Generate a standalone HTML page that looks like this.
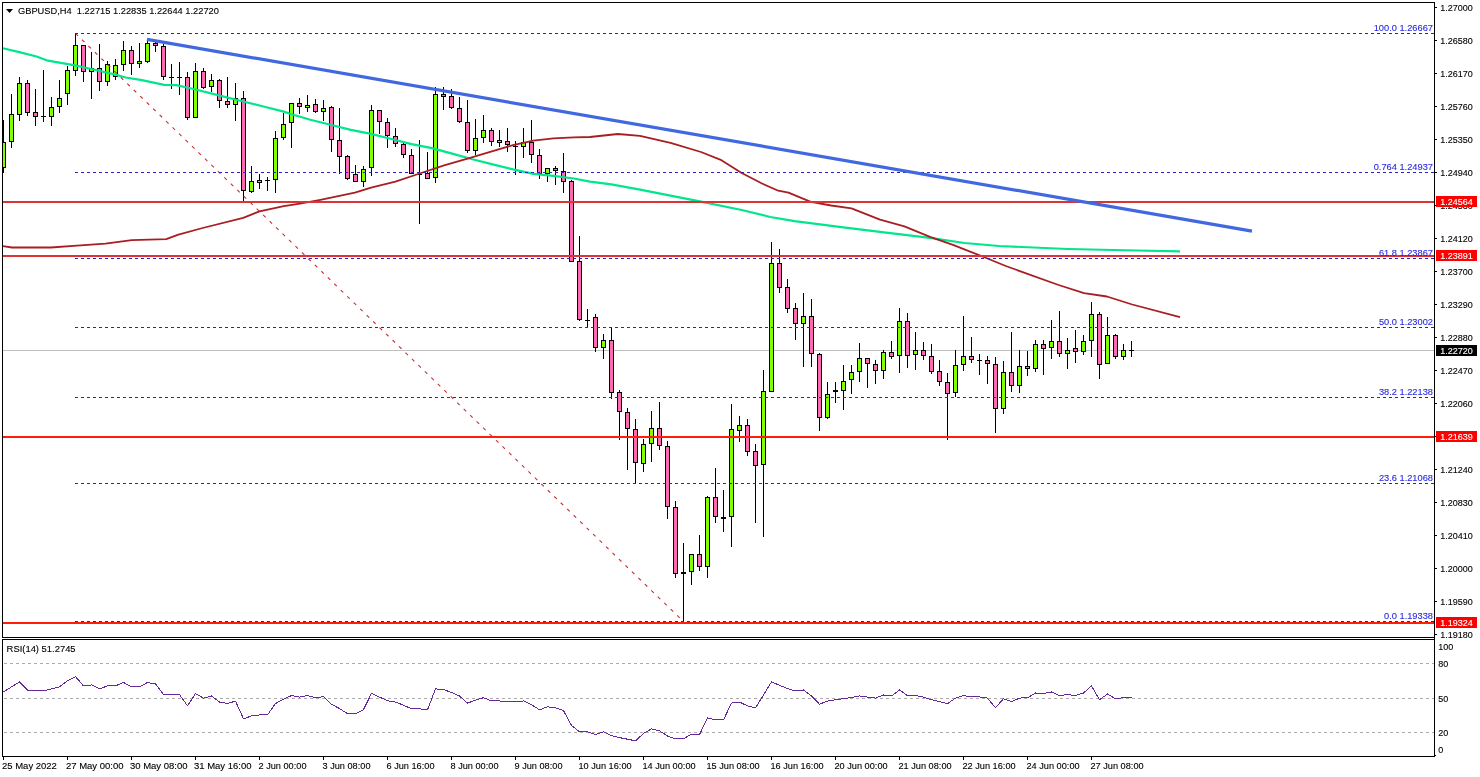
<!DOCTYPE html>
<html><head><meta charset="utf-8"><title>GBPUSD H4</title>
<style>html,body{margin:0;padding:0;background:#fff;width:1480px;height:777px;overflow:hidden}</style></head>
<body>
<svg width="1480" height="777" viewBox="0 0 1480 777" style="position:absolute;left:0;top:0;display:block" font-family="'Liberation Sans', sans-serif" font-size="9.9px">
<rect x="0" y="0" width="1480" height="777" fill="#ffffff"/>
<g shape-rendering="crispEdges">
<rect x="3" y="350" width="1431" height="1" fill="#C0C0C0"/>
</g>
<line x1="4" y1="663.5" x2="1434" y2="663.5" stroke="#ABABAB" stroke-width="1" stroke-dasharray="3 3" shape-rendering="crispEdges"/>
<line x1="4" y1="698.5" x2="1434" y2="698.5" stroke="#ABABAB" stroke-width="1" stroke-dasharray="3 3" shape-rendering="crispEdges"/>
<line x1="4" y1="732.5" x2="1434" y2="732.5" stroke="#ABABAB" stroke-width="1" stroke-dasharray="3 3" shape-rendering="crispEdges"/>
<clipPath id="cc"><rect x="3" y="3" width="1431" height="634"/></clipPath>
<g shape-rendering="crispEdges" clip-path="url(#cc)">
<rect x="3" y="120" width="1" height="53" fill="#000"/>
<rect x="1" y="142" width="5" height="26" fill="#000"/>
<rect x="2" y="143" width="3" height="24" fill="#7FFF00"/>
<rect x="11" y="94" width="1" height="54" fill="#000"/>
<rect x="9" y="114" width="5" height="28" fill="#000"/>
<rect x="10" y="115" width="3" height="26" fill="#7FFF00"/>
<rect x="19" y="77" width="1" height="44" fill="#000"/>
<rect x="17" y="83" width="5" height="32" fill="#000"/>
<rect x="18" y="84" width="3" height="30" fill="#7FFF00"/>
<rect x="27" y="80" width="1" height="36" fill="#000"/>
<rect x="25" y="83" width="5" height="30" fill="#000"/>
<rect x="26" y="84" width="3" height="28" fill="#FF69B4"/>
<rect x="35" y="89" width="1" height="37" fill="#000"/>
<rect x="33" y="112" width="5" height="5" fill="#000"/>
<rect x="34" y="113" width="3" height="3" fill="#FF69B4"/>
<rect x="43" y="70" width="1" height="52" fill="#000"/>
<rect x="41" y="116" width="5" height="1" fill="#000"/>
<rect x="51" y="97" width="1" height="29" fill="#000"/>
<rect x="49" y="107" width="5" height="10" fill="#000"/>
<rect x="50" y="108" width="3" height="8" fill="#7FFF00"/>
<rect x="59" y="80" width="1" height="33" fill="#000"/>
<rect x="57" y="98" width="5" height="9" fill="#000"/>
<rect x="58" y="99" width="3" height="7" fill="#7FFF00"/>
<rect x="67" y="66" width="1" height="39" fill="#000"/>
<rect x="65" y="70" width="5" height="24" fill="#000"/>
<rect x="66" y="71" width="3" height="22" fill="#7FFF00"/>
<rect x="75" y="33" width="1" height="43" fill="#000"/>
<rect x="73" y="45" width="5" height="26" fill="#000"/>
<rect x="74" y="46" width="3" height="24" fill="#7FFF00"/>
<rect x="83" y="45" width="1" height="37" fill="#000"/>
<rect x="81" y="45" width="5" height="27" fill="#000"/>
<rect x="82" y="46" width="3" height="25" fill="#FF69B4"/>
<rect x="91" y="52" width="1" height="47" fill="#000"/>
<rect x="89" y="68" width="5" height="4" fill="#000"/>
<rect x="90" y="69" width="3" height="2" fill="#7FFF00"/>
<rect x="99" y="44" width="1" height="47" fill="#000"/>
<rect x="97" y="68" width="5" height="14" fill="#000"/>
<rect x="98" y="69" width="3" height="12" fill="#FF69B4"/>
<rect x="107" y="61" width="1" height="25" fill="#000"/>
<rect x="105" y="64" width="5" height="18" fill="#000"/>
<rect x="106" y="65" width="3" height="16" fill="#7FFF00"/>
<rect x="115" y="59" width="1" height="21" fill="#000"/>
<rect x="113" y="65" width="5" height="12" fill="#000"/>
<rect x="114" y="66" width="3" height="10" fill="#7FFF00"/>
<rect x="123" y="41" width="1" height="30" fill="#000"/>
<rect x="121" y="50" width="5" height="15" fill="#000"/>
<rect x="122" y="51" width="3" height="13" fill="#7FFF00"/>
<rect x="131" y="46" width="1" height="29" fill="#000"/>
<rect x="129" y="50" width="5" height="14" fill="#000"/>
<rect x="130" y="51" width="3" height="12" fill="#FF69B4"/>
<rect x="139" y="43" width="1" height="25" fill="#000"/>
<rect x="137" y="61" width="5" height="3" fill="#000"/>
<rect x="138" y="62" width="3" height="1" fill="#7FFF00"/>
<rect x="147" y="41" width="1" height="22" fill="#000"/>
<rect x="145" y="43" width="5" height="19" fill="#000"/>
<rect x="146" y="44" width="3" height="17" fill="#7FFF00"/>
<rect x="155" y="42" width="1" height="10" fill="#000"/>
<rect x="153" y="43" width="5" height="3" fill="#000"/>
<rect x="154" y="44" width="3" height="1" fill="#FF69B4"/>
<rect x="163" y="44" width="1" height="36" fill="#000"/>
<rect x="161" y="46" width="5" height="31" fill="#000"/>
<rect x="162" y="47" width="3" height="29" fill="#FF69B4"/>
<rect x="171" y="64" width="1" height="25" fill="#000"/>
<rect x="169" y="77" width="5" height="1" fill="#000"/>
<rect x="179" y="62" width="1" height="33" fill="#000"/>
<rect x="177" y="77" width="5" height="1" fill="#000"/>
<rect x="187" y="72" width="1" height="48" fill="#000"/>
<rect x="185" y="77" width="5" height="41" fill="#000"/>
<rect x="186" y="78" width="3" height="39" fill="#FF69B4"/>
<rect x="195" y="63" width="1" height="55" fill="#000"/>
<rect x="193" y="71" width="5" height="47" fill="#000"/>
<rect x="194" y="72" width="3" height="45" fill="#7FFF00"/>
<rect x="203" y="68" width="1" height="21" fill="#000"/>
<rect x="201" y="71" width="5" height="17" fill="#000"/>
<rect x="202" y="72" width="3" height="15" fill="#FF69B4"/>
<rect x="211" y="74" width="1" height="18" fill="#000"/>
<rect x="209" y="80" width="5" height="7" fill="#000"/>
<rect x="210" y="81" width="3" height="5" fill="#7FFF00"/>
<rect x="219" y="79" width="1" height="29" fill="#000"/>
<rect x="217" y="80" width="5" height="21" fill="#000"/>
<rect x="218" y="81" width="3" height="19" fill="#FF69B4"/>
<rect x="227" y="77" width="1" height="31" fill="#000"/>
<rect x="225" y="101" width="5" height="4" fill="#000"/>
<rect x="226" y="102" width="3" height="2" fill="#FF69B4"/>
<rect x="235" y="83" width="1" height="38" fill="#000"/>
<rect x="233" y="98" width="5" height="7" fill="#000"/>
<rect x="234" y="99" width="3" height="5" fill="#7FFF00"/>
<rect x="243" y="91" width="1" height="111" fill="#000"/>
<rect x="241" y="98" width="5" height="93" fill="#000"/>
<rect x="242" y="99" width="3" height="91" fill="#FF69B4"/>
<rect x="251" y="166" width="1" height="27" fill="#000"/>
<rect x="249" y="181" width="5" height="11" fill="#000"/>
<rect x="250" y="182" width="3" height="9" fill="#7FFF00"/>
<rect x="259" y="174" width="1" height="15" fill="#000"/>
<rect x="257" y="180" width="5" height="3" fill="#000"/>
<rect x="258" y="181" width="3" height="1" fill="#7FFF00"/>
<rect x="267" y="177" width="1" height="14" fill="#000"/>
<rect x="265" y="180" width="5" height="1" fill="#000"/>
<rect x="275" y="131" width="1" height="62" fill="#000"/>
<rect x="273" y="138" width="5" height="42" fill="#000"/>
<rect x="274" y="139" width="3" height="40" fill="#7FFF00"/>
<rect x="283" y="113" width="1" height="27" fill="#000"/>
<rect x="281" y="124" width="5" height="14" fill="#000"/>
<rect x="282" y="125" width="3" height="12" fill="#7FFF00"/>
<rect x="291" y="103" width="1" height="45" fill="#000"/>
<rect x="289" y="103" width="5" height="20" fill="#000"/>
<rect x="290" y="104" width="3" height="18" fill="#7FFF00"/>
<rect x="299" y="98" width="1" height="16" fill="#000"/>
<rect x="297" y="103" width="5" height="4" fill="#000"/>
<rect x="298" y="104" width="3" height="2" fill="#FF69B4"/>
<rect x="307" y="95" width="1" height="17" fill="#000"/>
<rect x="305" y="105" width="5" height="3" fill="#000"/>
<rect x="306" y="106" width="3" height="1" fill="#7FFF00"/>
<rect x="315" y="99" width="1" height="14" fill="#000"/>
<rect x="313" y="104" width="5" height="8" fill="#000"/>
<rect x="314" y="105" width="3" height="6" fill="#FF69B4"/>
<rect x="323" y="100" width="1" height="21" fill="#000"/>
<rect x="321" y="108" width="5" height="4" fill="#000"/>
<rect x="322" y="109" width="3" height="2" fill="#7FFF00"/>
<rect x="331" y="106" width="1" height="46" fill="#000"/>
<rect x="329" y="107" width="5" height="33" fill="#000"/>
<rect x="330" y="108" width="3" height="31" fill="#FF69B4"/>
<rect x="339" y="108" width="1" height="66" fill="#000"/>
<rect x="337" y="140" width="5" height="17" fill="#000"/>
<rect x="338" y="141" width="3" height="15" fill="#FF69B4"/>
<rect x="347" y="155" width="1" height="25" fill="#000"/>
<rect x="345" y="156" width="5" height="23" fill="#000"/>
<rect x="346" y="157" width="3" height="21" fill="#FF69B4"/>
<rect x="355" y="165" width="1" height="17" fill="#000"/>
<rect x="353" y="174" width="5" height="8" fill="#000"/>
<rect x="354" y="175" width="3" height="6" fill="#FF69B4"/>
<rect x="363" y="166" width="1" height="21" fill="#000"/>
<rect x="361" y="169" width="5" height="13" fill="#000"/>
<rect x="362" y="170" width="3" height="11" fill="#7FFF00"/>
<rect x="371" y="105" width="1" height="71" fill="#000"/>
<rect x="369" y="110" width="5" height="58" fill="#000"/>
<rect x="370" y="111" width="3" height="56" fill="#7FFF00"/>
<rect x="379" y="110" width="1" height="24" fill="#000"/>
<rect x="377" y="110" width="5" height="12" fill="#000"/>
<rect x="378" y="111" width="3" height="10" fill="#FF69B4"/>
<rect x="387" y="118" width="1" height="30" fill="#000"/>
<rect x="385" y="122" width="5" height="14" fill="#000"/>
<rect x="386" y="123" width="3" height="12" fill="#FF69B4"/>
<rect x="395" y="128" width="1" height="19" fill="#000"/>
<rect x="393" y="136" width="5" height="8" fill="#000"/>
<rect x="394" y="137" width="3" height="6" fill="#FF69B4"/>
<rect x="403" y="143" width="1" height="15" fill="#000"/>
<rect x="401" y="144" width="5" height="11" fill="#000"/>
<rect x="402" y="145" width="3" height="9" fill="#FF69B4"/>
<rect x="411" y="149" width="1" height="25" fill="#000"/>
<rect x="409" y="155" width="5" height="19" fill="#000"/>
<rect x="410" y="156" width="3" height="17" fill="#FF69B4"/>
<rect x="419" y="140" width="1" height="84" fill="#000"/>
<rect x="417" y="174" width="5" height="1" fill="#000"/>
<rect x="427" y="152" width="1" height="27" fill="#000"/>
<rect x="425" y="173" width="5" height="6" fill="#000"/>
<rect x="426" y="174" width="3" height="4" fill="#FF69B4"/>
<rect x="435" y="87" width="1" height="96" fill="#000"/>
<rect x="433" y="94" width="5" height="84" fill="#000"/>
<rect x="434" y="95" width="3" height="82" fill="#7FFF00"/>
<rect x="443" y="87" width="1" height="23" fill="#000"/>
<rect x="441" y="94" width="5" height="3" fill="#000"/>
<rect x="442" y="95" width="3" height="1" fill="#FF69B4"/>
<rect x="451" y="89" width="1" height="20" fill="#000"/>
<rect x="449" y="96" width="5" height="12" fill="#000"/>
<rect x="450" y="97" width="3" height="10" fill="#FF69B4"/>
<rect x="459" y="97" width="1" height="26" fill="#000"/>
<rect x="457" y="108" width="5" height="14" fill="#000"/>
<rect x="458" y="109" width="3" height="12" fill="#FF69B4"/>
<rect x="467" y="100" width="1" height="53" fill="#000"/>
<rect x="465" y="122" width="5" height="29" fill="#000"/>
<rect x="466" y="123" width="3" height="27" fill="#FF69B4"/>
<rect x="475" y="119" width="1" height="36" fill="#000"/>
<rect x="473" y="138" width="5" height="13" fill="#000"/>
<rect x="474" y="139" width="3" height="11" fill="#7FFF00"/>
<rect x="483" y="115" width="1" height="28" fill="#000"/>
<rect x="481" y="130" width="5" height="8" fill="#000"/>
<rect x="482" y="131" width="3" height="6" fill="#7FFF00"/>
<rect x="491" y="128" width="1" height="18" fill="#000"/>
<rect x="489" y="130" width="5" height="12" fill="#000"/>
<rect x="490" y="131" width="3" height="10" fill="#FF69B4"/>
<rect x="499" y="130" width="1" height="17" fill="#000"/>
<rect x="497" y="140" width="5" height="3" fill="#000"/>
<rect x="498" y="141" width="3" height="1" fill="#7FFF00"/>
<rect x="507" y="128" width="1" height="24" fill="#000"/>
<rect x="505" y="141" width="5" height="4" fill="#000"/>
<rect x="506" y="142" width="3" height="2" fill="#FF69B4"/>
<rect x="515" y="141" width="1" height="34" fill="#000"/>
<rect x="513" y="146" width="5" height="1" fill="#000"/>
<rect x="523" y="128" width="1" height="30" fill="#000"/>
<rect x="521" y="142" width="5" height="5" fill="#000"/>
<rect x="522" y="143" width="3" height="3" fill="#7FFF00"/>
<rect x="531" y="120" width="1" height="43" fill="#000"/>
<rect x="529" y="142" width="5" height="13" fill="#000"/>
<rect x="530" y="143" width="3" height="11" fill="#FF69B4"/>
<rect x="539" y="149" width="1" height="30" fill="#000"/>
<rect x="537" y="155" width="5" height="19" fill="#000"/>
<rect x="538" y="156" width="3" height="17" fill="#FF69B4"/>
<rect x="547" y="168" width="1" height="14" fill="#000"/>
<rect x="545" y="168" width="5" height="6" fill="#000"/>
<rect x="546" y="169" width="3" height="4" fill="#7FFF00"/>
<rect x="555" y="166" width="1" height="19" fill="#000"/>
<rect x="553" y="168" width="5" height="3" fill="#000"/>
<rect x="554" y="169" width="3" height="1" fill="#FF69B4"/>
<rect x="563" y="153" width="1" height="40" fill="#000"/>
<rect x="561" y="171" width="5" height="11" fill="#000"/>
<rect x="562" y="172" width="3" height="9" fill="#FF69B4"/>
<rect x="571" y="180" width="1" height="82" fill="#000"/>
<rect x="569" y="181" width="5" height="81" fill="#000"/>
<rect x="570" y="182" width="3" height="79" fill="#FF69B4"/>
<rect x="579" y="236" width="1" height="85" fill="#000"/>
<rect x="577" y="261" width="5" height="59" fill="#000"/>
<rect x="578" y="262" width="3" height="57" fill="#FF69B4"/>
<rect x="587" y="309" width="1" height="18" fill="#000"/>
<rect x="585" y="320" width="5" height="1" fill="#000"/>
<rect x="595" y="314" width="1" height="38" fill="#000"/>
<rect x="593" y="317" width="5" height="31" fill="#000"/>
<rect x="594" y="318" width="3" height="29" fill="#FF69B4"/>
<rect x="603" y="334" width="1" height="25" fill="#000"/>
<rect x="601" y="340" width="5" height="8" fill="#000"/>
<rect x="602" y="341" width="3" height="6" fill="#7FFF00"/>
<rect x="611" y="328" width="1" height="71" fill="#000"/>
<rect x="609" y="340" width="5" height="53" fill="#000"/>
<rect x="610" y="341" width="3" height="51" fill="#FF69B4"/>
<rect x="619" y="390" width="1" height="50" fill="#000"/>
<rect x="617" y="392" width="5" height="20" fill="#000"/>
<rect x="618" y="393" width="3" height="18" fill="#FF69B4"/>
<rect x="627" y="408" width="1" height="62" fill="#000"/>
<rect x="625" y="412" width="5" height="17" fill="#000"/>
<rect x="626" y="413" width="3" height="15" fill="#FF69B4"/>
<rect x="635" y="419" width="1" height="64" fill="#000"/>
<rect x="633" y="429" width="5" height="34" fill="#000"/>
<rect x="634" y="430" width="3" height="32" fill="#FF69B4"/>
<rect x="643" y="439" width="1" height="33" fill="#000"/>
<rect x="641" y="444" width="5" height="20" fill="#000"/>
<rect x="642" y="445" width="3" height="18" fill="#7FFF00"/>
<rect x="651" y="411" width="1" height="51" fill="#000"/>
<rect x="649" y="428" width="5" height="16" fill="#000"/>
<rect x="650" y="429" width="3" height="14" fill="#7FFF00"/>
<rect x="659" y="402" width="1" height="48" fill="#000"/>
<rect x="657" y="428" width="5" height="18" fill="#000"/>
<rect x="658" y="429" width="3" height="16" fill="#FF69B4"/>
<rect x="667" y="441" width="1" height="78" fill="#000"/>
<rect x="665" y="446" width="5" height="61" fill="#000"/>
<rect x="666" y="447" width="3" height="59" fill="#FF69B4"/>
<rect x="675" y="501" width="1" height="77" fill="#000"/>
<rect x="673" y="507" width="5" height="67" fill="#000"/>
<rect x="674" y="508" width="3" height="65" fill="#FF69B4"/>
<rect x="683" y="543" width="1" height="78" fill="#000"/>
<rect x="681" y="572" width="5" height="2" fill="#000"/>
<rect x="691" y="554" width="1" height="31" fill="#000"/>
<rect x="689" y="554" width="5" height="18" fill="#000"/>
<rect x="690" y="555" width="3" height="16" fill="#7FFF00"/>
<rect x="699" y="535" width="1" height="36" fill="#000"/>
<rect x="697" y="554" width="5" height="13" fill="#000"/>
<rect x="698" y="555" width="3" height="11" fill="#FF69B4"/>
<rect x="707" y="496" width="1" height="82" fill="#000"/>
<rect x="705" y="497" width="5" height="70" fill="#000"/>
<rect x="706" y="498" width="3" height="68" fill="#7FFF00"/>
<rect x="715" y="468" width="1" height="55" fill="#000"/>
<rect x="713" y="497" width="5" height="20" fill="#000"/>
<rect x="714" y="498" width="3" height="18" fill="#FF69B4"/>
<rect x="723" y="490" width="1" height="42" fill="#000"/>
<rect x="721" y="517" width="5" height="2" fill="#000"/>
<rect x="731" y="404" width="1" height="143" fill="#000"/>
<rect x="729" y="429" width="5" height="88" fill="#000"/>
<rect x="730" y="430" width="3" height="86" fill="#7FFF00"/>
<rect x="739" y="416" width="1" height="26" fill="#000"/>
<rect x="737" y="425" width="5" height="6" fill="#000"/>
<rect x="738" y="426" width="3" height="4" fill="#7FFF00"/>
<rect x="747" y="419" width="1" height="37" fill="#000"/>
<rect x="745" y="425" width="5" height="27" fill="#000"/>
<rect x="746" y="426" width="3" height="25" fill="#FF69B4"/>
<rect x="755" y="444" width="1" height="79" fill="#000"/>
<rect x="753" y="451" width="5" height="15" fill="#000"/>
<rect x="754" y="452" width="3" height="13" fill="#FF69B4"/>
<rect x="763" y="370" width="1" height="167" fill="#000"/>
<rect x="761" y="391" width="5" height="74" fill="#000"/>
<rect x="762" y="392" width="3" height="72" fill="#7FFF00"/>
<rect x="771" y="242" width="1" height="150" fill="#000"/>
<rect x="769" y="263" width="5" height="129" fill="#000"/>
<rect x="770" y="264" width="3" height="127" fill="#7FFF00"/>
<rect x="779" y="249" width="1" height="44" fill="#000"/>
<rect x="777" y="263" width="5" height="25" fill="#000"/>
<rect x="778" y="264" width="3" height="23" fill="#FF69B4"/>
<rect x="787" y="279" width="1" height="34" fill="#000"/>
<rect x="785" y="287" width="5" height="22" fill="#000"/>
<rect x="786" y="288" width="3" height="20" fill="#FF69B4"/>
<rect x="795" y="303" width="1" height="37" fill="#000"/>
<rect x="793" y="308" width="5" height="16" fill="#000"/>
<rect x="794" y="309" width="3" height="14" fill="#FF69B4"/>
<rect x="803" y="293" width="1" height="74" fill="#000"/>
<rect x="801" y="316" width="5" height="8" fill="#000"/>
<rect x="802" y="317" width="3" height="6" fill="#7FFF00"/>
<rect x="811" y="299" width="1" height="68" fill="#000"/>
<rect x="809" y="316" width="5" height="38" fill="#000"/>
<rect x="810" y="317" width="3" height="36" fill="#FF69B4"/>
<rect x="819" y="353" width="1" height="78" fill="#000"/>
<rect x="817" y="354" width="5" height="64" fill="#000"/>
<rect x="818" y="355" width="3" height="62" fill="#FF69B4"/>
<rect x="827" y="382" width="1" height="37" fill="#000"/>
<rect x="825" y="394" width="5" height="24" fill="#000"/>
<rect x="826" y="395" width="3" height="22" fill="#7FFF00"/>
<rect x="835" y="382" width="1" height="21" fill="#000"/>
<rect x="833" y="390" width="5" height="2" fill="#000"/>
<rect x="843" y="365" width="1" height="45" fill="#000"/>
<rect x="841" y="381" width="5" height="10" fill="#000"/>
<rect x="842" y="382" width="3" height="8" fill="#7FFF00"/>
<rect x="851" y="365" width="1" height="29" fill="#000"/>
<rect x="849" y="372" width="5" height="8" fill="#000"/>
<rect x="850" y="373" width="3" height="6" fill="#7FFF00"/>
<rect x="859" y="343" width="1" height="39" fill="#000"/>
<rect x="857" y="358" width="5" height="14" fill="#000"/>
<rect x="858" y="359" width="3" height="12" fill="#7FFF00"/>
<rect x="867" y="358" width="1" height="30" fill="#000"/>
<rect x="865" y="358" width="5" height="6" fill="#000"/>
<rect x="866" y="359" width="3" height="4" fill="#FF69B4"/>
<rect x="875" y="360" width="1" height="24" fill="#000"/>
<rect x="873" y="364" width="5" height="7" fill="#000"/>
<rect x="874" y="365" width="3" height="5" fill="#FF69B4"/>
<rect x="883" y="350" width="1" height="29" fill="#000"/>
<rect x="881" y="352" width="5" height="19" fill="#000"/>
<rect x="882" y="353" width="3" height="17" fill="#7FFF00"/>
<rect x="891" y="341" width="1" height="18" fill="#000"/>
<rect x="889" y="352" width="5" height="5" fill="#000"/>
<rect x="890" y="353" width="3" height="3" fill="#FF69B4"/>
<rect x="899" y="308" width="1" height="65" fill="#000"/>
<rect x="897" y="321" width="5" height="35" fill="#000"/>
<rect x="898" y="322" width="3" height="33" fill="#7FFF00"/>
<rect x="907" y="313" width="1" height="55" fill="#000"/>
<rect x="905" y="321" width="5" height="35" fill="#000"/>
<rect x="906" y="322" width="3" height="33" fill="#FF69B4"/>
<rect x="915" y="332" width="1" height="38" fill="#000"/>
<rect x="913" y="350" width="5" height="5" fill="#000"/>
<rect x="914" y="351" width="3" height="3" fill="#7FFF00"/>
<rect x="923" y="342" width="1" height="18" fill="#000"/>
<rect x="921" y="350" width="5" height="6" fill="#000"/>
<rect x="922" y="351" width="3" height="4" fill="#FF69B4"/>
<rect x="931" y="344" width="1" height="30" fill="#000"/>
<rect x="929" y="356" width="5" height="16" fill="#000"/>
<rect x="930" y="357" width="3" height="14" fill="#FF69B4"/>
<rect x="939" y="360" width="1" height="26" fill="#000"/>
<rect x="937" y="371" width="5" height="11" fill="#000"/>
<rect x="938" y="372" width="3" height="9" fill="#FF69B4"/>
<rect x="947" y="373" width="1" height="67" fill="#000"/>
<rect x="945" y="382" width="5" height="12" fill="#000"/>
<rect x="946" y="383" width="3" height="10" fill="#FF69B4"/>
<rect x="955" y="350" width="1" height="47" fill="#000"/>
<rect x="953" y="365" width="5" height="28" fill="#000"/>
<rect x="954" y="366" width="3" height="26" fill="#7FFF00"/>
<rect x="963" y="316" width="1" height="55" fill="#000"/>
<rect x="961" y="356" width="5" height="9" fill="#000"/>
<rect x="962" y="357" width="3" height="7" fill="#7FFF00"/>
<rect x="971" y="337" width="1" height="26" fill="#000"/>
<rect x="969" y="356" width="5" height="4" fill="#000"/>
<rect x="970" y="357" width="3" height="2" fill="#FF69B4"/>
<rect x="979" y="354" width="1" height="21" fill="#000"/>
<rect x="977" y="360" width="5" height="1" fill="#000"/>
<rect x="987" y="356" width="1" height="28" fill="#000"/>
<rect x="985" y="360" width="5" height="4" fill="#000"/>
<rect x="986" y="361" width="3" height="2" fill="#FF69B4"/>
<rect x="995" y="357" width="1" height="76" fill="#000"/>
<rect x="993" y="364" width="5" height="45" fill="#000"/>
<rect x="994" y="365" width="3" height="43" fill="#FF69B4"/>
<rect x="1003" y="361" width="1" height="53" fill="#000"/>
<rect x="1001" y="372" width="5" height="37" fill="#000"/>
<rect x="1002" y="373" width="3" height="35" fill="#7FFF00"/>
<rect x="1011" y="332" width="1" height="60" fill="#000"/>
<rect x="1009" y="372" width="5" height="14" fill="#000"/>
<rect x="1010" y="373" width="3" height="12" fill="#FF69B4"/>
<rect x="1019" y="350" width="1" height="43" fill="#000"/>
<rect x="1017" y="366" width="5" height="20" fill="#000"/>
<rect x="1018" y="367" width="3" height="18" fill="#7FFF00"/>
<rect x="1027" y="351" width="1" height="25" fill="#000"/>
<rect x="1025" y="366" width="5" height="3" fill="#000"/>
<rect x="1026" y="367" width="3" height="1" fill="#FF69B4"/>
<rect x="1035" y="340" width="1" height="32" fill="#000"/>
<rect x="1033" y="344" width="5" height="25" fill="#000"/>
<rect x="1034" y="345" width="3" height="23" fill="#7FFF00"/>
<rect x="1043" y="340" width="1" height="35" fill="#000"/>
<rect x="1041" y="344" width="5" height="5" fill="#000"/>
<rect x="1042" y="345" width="3" height="3" fill="#FF69B4"/>
<rect x="1051" y="320" width="1" height="39" fill="#000"/>
<rect x="1049" y="341" width="5" height="7" fill="#000"/>
<rect x="1050" y="342" width="3" height="5" fill="#7FFF00"/>
<rect x="1059" y="311" width="1" height="46" fill="#000"/>
<rect x="1057" y="341" width="5" height="13" fill="#000"/>
<rect x="1058" y="342" width="3" height="11" fill="#FF69B4"/>
<rect x="1067" y="338" width="1" height="31" fill="#000"/>
<rect x="1065" y="350" width="5" height="4" fill="#000"/>
<rect x="1066" y="351" width="3" height="2" fill="#7FFF00"/>
<rect x="1075" y="330" width="1" height="33" fill="#000"/>
<rect x="1073" y="348" width="5" height="4" fill="#000"/>
<rect x="1074" y="349" width="3" height="2" fill="#FF69B4"/>
<rect x="1083" y="335" width="1" height="20" fill="#000"/>
<rect x="1081" y="341" width="5" height="11" fill="#000"/>
<rect x="1082" y="342" width="3" height="9" fill="#7FFF00"/>
<rect x="1091" y="302" width="1" height="55" fill="#000"/>
<rect x="1089" y="314" width="5" height="27" fill="#000"/>
<rect x="1090" y="315" width="3" height="25" fill="#7FFF00"/>
<rect x="1099" y="312" width="1" height="67" fill="#000"/>
<rect x="1097" y="314" width="5" height="51" fill="#000"/>
<rect x="1098" y="315" width="3" height="49" fill="#FF69B4"/>
<rect x="1107" y="317" width="1" height="47" fill="#000"/>
<rect x="1105" y="335" width="5" height="29" fill="#000"/>
<rect x="1106" y="336" width="3" height="27" fill="#7FFF00"/>
<rect x="1115" y="334" width="1" height="25" fill="#000"/>
<rect x="1113" y="335" width="5" height="22" fill="#000"/>
<rect x="1114" y="336" width="3" height="20" fill="#FF69B4"/>
<rect x="1123" y="344" width="1" height="16" fill="#000"/>
<rect x="1121" y="350" width="5" height="7" fill="#000"/>
<rect x="1122" y="351" width="3" height="5" fill="#7FFF00"/>
<rect x="1131" y="341" width="1" height="16" fill="#000"/>
<rect x="1129" y="350" width="5" height="1" fill="#000"/>
</g>
<polyline points="3.0,48.3 20.3,52.4 36.5,56.5 46.6,60.3 60.8,62.9 75.0,65.4 91.2,69.0 113.5,74.1 125.7,77.5 141.9,80.2 164.2,84.8 176.4,85.1 194.6,89.3 218.9,95.4 243.2,101.5 263.5,106.5 283.8,111.6 290.0,113.7 310.3,119.8 330.5,124.8 350.8,129.9 371.1,133.9 391.4,139.0 411.6,144.1 431.9,148.1 452.2,153.6 472.4,159.3 492.7,164.4 513.0,169.4 533.3,173.9 553.5,175.9 573.8,178.5 590.0,181.6 611.3,184.3 640.0,189.6 701.0,201.7 741.7,210.0 770.3,217.0 794.6,221.2 843.4,227.3 884.0,232.4 930.0,237.9 964.5,243.0 999.0,246.0 1067.8,249.0 1136.8,250.5 1180.0,251.3" fill="none" stroke="#00E68C" stroke-width="2.2" stroke-linejoin="round"/>
<polyline points="3.0,246.2 12.0,247.5 50.7,247.5 77.0,245.6 105.4,243.6 131.8,240.2 166.2,239.1 178.4,234.7 202.7,228.0 243.2,217.9 259.5,211.4 283.8,206.1 300.0,203.7 320.4,199.8 354.9,192.7 371.1,187.7 395.4,181.6 419.7,173.5 444.1,165.4 468.4,158.3 492.7,151.2 513.0,145.1 533.3,140.6 553.5,138.4 573.8,137.4 590.0,137.0 617.8,134.0 640.0,135.8 670.5,142.9 701.0,152.0 721.4,160.2 741.7,173.0 762.0,183.5 778.3,190.7 788.5,192.7 810.8,201.9 831.2,205.5 851.5,208.4 880.0,219.7 904.4,226.3 930.0,236.8 953.0,244.8 985.0,257.5 1005.8,266.0 1058.6,285.0 1084.0,293.1 1106.9,296.5 1132.2,304.5 1180.0,317.2" fill="none" stroke="#A81E22" stroke-width="1.8" stroke-linejoin="round"/>
<line x1="75.5" y1="33.5" x2="683.5" y2="621.5" stroke="#C83030" stroke-width="1.1" stroke-dasharray="3.5 5.5"/>
<line x1="75" y1="33.5" x2="1434" y2="33.5" stroke="#2B20C0" stroke-width="1" stroke-dasharray="3 3" shape-rendering="crispEdges"/>
<line x1="75" y1="172.5" x2="1434" y2="172.5" stroke="#2B20C0" stroke-width="1" stroke-dasharray="3 3" shape-rendering="crispEdges"/>
<line x1="75" y1="258.5" x2="1434" y2="258.5" stroke="#2B20C0" stroke-width="1" stroke-dasharray="3 3" shape-rendering="crispEdges"/>
<line x1="75" y1="327.5" x2="1434" y2="327.5" stroke="#2B20C0" stroke-width="1" stroke-dasharray="3 3" shape-rendering="crispEdges"/>
<line x1="75" y1="397.5" x2="1434" y2="397.5" stroke="#2B20C0" stroke-width="1" stroke-dasharray="3 3" shape-rendering="crispEdges"/>
<line x1="75" y1="483.5" x2="1434" y2="483.5" stroke="#2B20C0" stroke-width="1" stroke-dasharray="3 3" shape-rendering="crispEdges"/>
<line x1="75" y1="621.5" x2="1434" y2="621.5" stroke="#2B20C0" stroke-width="1" stroke-dasharray="3 3" shape-rendering="crispEdges"/>
<g shape-rendering="crispEdges">
<rect x="3" y="201" width="1431" height="2" fill="#DC3434"/>
<rect x="3" y="255" width="1431" height="2" fill="#DC3434"/>
<rect x="3" y="436" width="1431" height="2" fill="#FF1E0A"/>
<rect x="3" y="622" width="1431" height="2" fill="#FF1E0A"/>
</g>
<text x="1433" y="31" fill="#2a2ae0" stroke="#2a2ae0" stroke-width="0.12" text-anchor="end" textLength="59.3" lengthAdjust="spacingAndGlyphs" xml:space="preserve">100.0 1.26667</text>
<text x="1433" y="170" fill="#2a2ae0" stroke="#2a2ae0" stroke-width="0.12" text-anchor="end" textLength="59.3" lengthAdjust="spacingAndGlyphs" xml:space="preserve">0.764 1.24937</text>
<text x="1433" y="256" fill="#2a2ae0" stroke="#2a2ae0" stroke-width="0.12" text-anchor="end" textLength="54.1" lengthAdjust="spacingAndGlyphs" xml:space="preserve">61.8 1.23867</text>
<text x="1433" y="325" fill="#2a2ae0" stroke="#2a2ae0" stroke-width="0.12" text-anchor="end" textLength="54.1" lengthAdjust="spacingAndGlyphs" xml:space="preserve">50.0 1.23002</text>
<text x="1433" y="395" fill="#2a2ae0" stroke="#2a2ae0" stroke-width="0.12" text-anchor="end" textLength="54.1" lengthAdjust="spacingAndGlyphs" xml:space="preserve">38.2 1.22138</text>
<text x="1433" y="481" fill="#2a2ae0" stroke="#2a2ae0" stroke-width="0.12" text-anchor="end" textLength="54.1" lengthAdjust="spacingAndGlyphs" xml:space="preserve">23.6 1.21068</text>
<text x="1433" y="619" fill="#2a2ae0" stroke="#2a2ae0" stroke-width="0.12" text-anchor="end" textLength="49.0" lengthAdjust="spacingAndGlyphs" xml:space="preserve">0.0 1.19338</text>
<line x1="147" y1="39.4" x2="1252" y2="231.2" stroke="#4068E0" stroke-width="3.2"/>
<polyline points="3.5,692.0 11.5,686.9 19.5,681.9 27.5,690.0 35.5,690.0 43.5,691.0 51.5,688.9 59.5,686.9 67.5,680.8 75.5,676.6 83.5,685.9 91.5,684.9 99.5,688.9 107.5,685.9 115.5,685.9 123.5,682.5 131.5,686.9 139.5,686.9 147.5,682.5 155.5,683.9 163.5,694.6 171.5,694.6 179.5,694.6 187.5,705.8 195.5,693.6 203.5,698.1 211.5,696.0 219.5,702.1 227.5,703.5 235.5,701.1 243.5,718.9 251.5,715.9 259.5,714.9 267.5,714.9 275.5,703.5 283.5,699.1 291.5,695.6 299.5,697.1 307.5,695.6 315.5,697.7 323.5,696.7 331.5,704.2 339.5,708.6 347.5,713.7 355.5,713.7 363.5,709.6 371.5,693.4 379.5,697.1 387.5,700.7 395.5,702.1 403.5,705.2 411.5,708.8 419.5,708.8 427.5,709.8 435.5,688.9 443.5,689.6 451.5,692.4 459.5,696.0 467.5,703.1 475.5,700.1 483.5,697.7 491.5,700.9 499.5,700.9 507.5,701.9 515.5,701.9 523.5,700.9 531.5,704.6 539.5,709.8 547.5,706.8 555.5,707.8 563.5,710.6 571.5,725.4 579.5,731.9 587.5,731.9 595.5,734.6 603.5,731.9 611.5,735.6 619.5,737.6 627.5,739.2 635.5,740.8 643.5,733.5 651.5,728.9 659.5,730.9 667.5,736.0 675.5,738.8 683.5,738.8 691.5,734.2 699.5,734.6 707.5,717.9 715.5,719.8 723.5,719.8 731.5,703.1 739.5,702.1 747.5,705.8 755.5,707.8 763.5,695.0 771.5,681.9 779.5,685.3 787.5,688.5 795.5,691.0 803.5,690.0 811.5,696.0 819.5,704.2 827.5,701.1 835.5,699.7 843.5,698.7 851.5,697.5 859.5,696.0 867.5,697.1 875.5,698.1 883.5,695.0 891.5,696.0 899.5,690.0 907.5,695.6 915.5,695.6 923.5,697.1 931.5,699.7 939.5,701.7 947.5,703.7 955.5,698.1 963.5,695.6 971.5,696.9 979.5,696.9 987.5,698.1 995.5,707.8 1003.5,698.7 1011.5,701.7 1019.5,698.1 1027.5,697.7 1035.5,693.0 1043.5,693.6 1051.5,692.0 1059.5,695.6 1067.5,694.6 1075.5,695.6 1083.5,693.0 1091.5,685.9 1099.5,699.7 1107.5,694.0 1115.5,698.7 1123.5,697.7 1131.5,697.7" fill="none" stroke="#64289A" stroke-width="1.0" stroke-linejoin="round" shape-rendering="crispEdges"/>
<g shape-rendering="crispEdges">
<rect x="2" y="2" width="1433" height="1" fill="#000"/>
<rect x="2" y="2" width="1" height="636" fill="#000"/>
<rect x="2" y="637" width="1433" height="1" fill="#000"/>
<rect x="2" y="639" width="1433" height="1" fill="#000"/>
<rect x="2" y="639" width="1" height="118" fill="#000"/>
<rect x="2" y="756" width="1433" height="1" fill="#000"/>
<rect x="1434" y="2" width="1" height="755" fill="#000"/>
<rect x="1435" y="755" width="1" height="1" fill="#000"/>
<rect x="1435" y="7" width="2" height="1" fill="#000"/>
<rect x="1435" y="40" width="2" height="1" fill="#000"/>
<rect x="1435" y="73" width="2" height="1" fill="#000"/>
<rect x="1435" y="106" width="2" height="1" fill="#000"/>
<rect x="1435" y="139" width="2" height="1" fill="#000"/>
<rect x="1435" y="172" width="2" height="1" fill="#000"/>
<rect x="1435" y="205" width="2" height="1" fill="#000"/>
<rect x="1435" y="238" width="2" height="1" fill="#000"/>
<rect x="1435" y="271" width="2" height="1" fill="#000"/>
<rect x="1435" y="304" width="2" height="1" fill="#000"/>
<rect x="1435" y="337" width="2" height="1" fill="#000"/>
<rect x="1435" y="370" width="2" height="1" fill="#000"/>
<rect x="1435" y="403" width="2" height="1" fill="#000"/>
<rect x="1435" y="436" width="2" height="1" fill="#000"/>
<rect x="1435" y="469" width="2" height="1" fill="#000"/>
<rect x="1435" y="502" width="2" height="1" fill="#000"/>
<rect x="1435" y="535" width="2" height="1" fill="#000"/>
<rect x="1435" y="568" width="2" height="1" fill="#000"/>
<rect x="1435" y="601" width="2" height="1" fill="#000"/>
<rect x="1435" y="634" width="2" height="1" fill="#000"/>
<rect x="3" y="757" width="1" height="3" fill="#000"/>
<rect x="67" y="757" width="1" height="3" fill="#000"/>
<rect x="131" y="757" width="1" height="3" fill="#000"/>
<rect x="195" y="757" width="1" height="3" fill="#000"/>
<rect x="259" y="757" width="1" height="3" fill="#000"/>
<rect x="323" y="757" width="1" height="3" fill="#000"/>
<rect x="387" y="757" width="1" height="3" fill="#000"/>
<rect x="451" y="757" width="1" height="3" fill="#000"/>
<rect x="515" y="757" width="1" height="3" fill="#000"/>
<rect x="579" y="757" width="1" height="3" fill="#000"/>
<rect x="643" y="757" width="1" height="3" fill="#000"/>
<rect x="707" y="757" width="1" height="3" fill="#000"/>
<rect x="771" y="757" width="1" height="3" fill="#000"/>
<rect x="835" y="757" width="1" height="3" fill="#000"/>
<rect x="899" y="757" width="1" height="3" fill="#000"/>
<rect x="963" y="757" width="1" height="3" fill="#000"/>
<rect x="1027" y="757" width="1" height="3" fill="#000"/>
<rect x="1091" y="757" width="1" height="3" fill="#000"/>
</g>
<text x="1440.2" y="11" fill="#000" stroke="#000" stroke-width="0.12" textLength="32.5" lengthAdjust="spacingAndGlyphs" xml:space="preserve">1.27000</text>
<text x="1440.2" y="44" fill="#000" stroke="#000" stroke-width="0.12" textLength="32.5" lengthAdjust="spacingAndGlyphs" xml:space="preserve">1.26580</text>
<text x="1440.2" y="77" fill="#000" stroke="#000" stroke-width="0.12" textLength="32.5" lengthAdjust="spacingAndGlyphs" xml:space="preserve">1.26170</text>
<text x="1440.2" y="110" fill="#000" stroke="#000" stroke-width="0.12" textLength="32.5" lengthAdjust="spacingAndGlyphs" xml:space="preserve">1.25760</text>
<text x="1440.2" y="143" fill="#000" stroke="#000" stroke-width="0.12" textLength="32.5" lengthAdjust="spacingAndGlyphs" xml:space="preserve">1.25350</text>
<text x="1440.2" y="176" fill="#000" stroke="#000" stroke-width="0.12" textLength="32.5" lengthAdjust="spacingAndGlyphs" xml:space="preserve">1.24940</text>
<text x="1440.2" y="209" fill="#000" stroke="#000" stroke-width="0.12" textLength="32.5" lengthAdjust="spacingAndGlyphs" xml:space="preserve">1.24530</text>
<text x="1440.2" y="242" fill="#000" stroke="#000" stroke-width="0.12" textLength="32.5" lengthAdjust="spacingAndGlyphs" xml:space="preserve">1.24120</text>
<text x="1440.2" y="275" fill="#000" stroke="#000" stroke-width="0.12" textLength="32.5" lengthAdjust="spacingAndGlyphs" xml:space="preserve">1.23700</text>
<text x="1440.2" y="308" fill="#000" stroke="#000" stroke-width="0.12" textLength="32.5" lengthAdjust="spacingAndGlyphs" xml:space="preserve">1.23290</text>
<text x="1440.2" y="341" fill="#000" stroke="#000" stroke-width="0.12" textLength="32.5" lengthAdjust="spacingAndGlyphs" xml:space="preserve">1.22880</text>
<text x="1440.2" y="374" fill="#000" stroke="#000" stroke-width="0.12" textLength="32.5" lengthAdjust="spacingAndGlyphs" xml:space="preserve">1.22470</text>
<text x="1440.2" y="407" fill="#000" stroke="#000" stroke-width="0.12" textLength="32.5" lengthAdjust="spacingAndGlyphs" xml:space="preserve">1.22060</text>
<text x="1440.2" y="440" fill="#000" stroke="#000" stroke-width="0.12" textLength="32.5" lengthAdjust="spacingAndGlyphs" xml:space="preserve">1.21650</text>
<text x="1440.2" y="473" fill="#000" stroke="#000" stroke-width="0.12" textLength="32.5" lengthAdjust="spacingAndGlyphs" xml:space="preserve">1.21240</text>
<text x="1440.2" y="506" fill="#000" stroke="#000" stroke-width="0.12" textLength="32.5" lengthAdjust="spacingAndGlyphs" xml:space="preserve">1.20830</text>
<text x="1440.2" y="539" fill="#000" stroke="#000" stroke-width="0.12" textLength="32.5" lengthAdjust="spacingAndGlyphs" xml:space="preserve">1.20410</text>
<text x="1440.2" y="572" fill="#000" stroke="#000" stroke-width="0.12" textLength="32.5" lengthAdjust="spacingAndGlyphs" xml:space="preserve">1.20000</text>
<text x="1440.2" y="605" fill="#000" stroke="#000" stroke-width="0.12" textLength="32.5" lengthAdjust="spacingAndGlyphs" xml:space="preserve">1.19590</text>
<text x="1440.2" y="638" fill="#000" stroke="#000" stroke-width="0.12" textLength="32.5" lengthAdjust="spacingAndGlyphs" xml:space="preserve">1.19180</text>
<rect x="1436" y="196" width="41" height="11" fill="#FF0000" shape-rendering="crispEdges"/>
<text x="1440.2" y="205" fill="#fff" stroke="#fff" stroke-width="0.12" textLength="32.5" lengthAdjust="spacingAndGlyphs" xml:space="preserve">1.24564</text>
<rect x="1436" y="250" width="41" height="11" fill="#FF0000" shape-rendering="crispEdges"/>
<text x="1440.2" y="259" fill="#fff" stroke="#fff" stroke-width="0.12" textLength="32.5" lengthAdjust="spacingAndGlyphs" xml:space="preserve">1.23891</text>
<rect x="1436" y="345" width="41" height="11" fill="#000000" shape-rendering="crispEdges"/>
<text x="1440.2" y="354" fill="#fff" stroke="#fff" stroke-width="0.12" textLength="32.5" lengthAdjust="spacingAndGlyphs" xml:space="preserve">1.22720</text>
<rect x="1436" y="431" width="41" height="11" fill="#FF0000" shape-rendering="crispEdges"/>
<text x="1440.2" y="440" fill="#fff" stroke="#fff" stroke-width="0.12" textLength="32.5" lengthAdjust="spacingAndGlyphs" xml:space="preserve">1.21639</text>
<rect x="1436" y="617" width="41" height="11" fill="#FF0000" shape-rendering="crispEdges"/>
<text x="1440.2" y="626" fill="#fff" stroke="#fff" stroke-width="0.12" textLength="32.5" lengthAdjust="spacingAndGlyphs" xml:space="preserve">1.19324</text>
<text x="1438.2" y="650" fill="#000" stroke="#000" stroke-width="0.12" textLength="15.0" lengthAdjust="spacingAndGlyphs" xml:space="preserve">100</text>
<text x="1438.2" y="667" fill="#000" stroke="#000" stroke-width="0.12" textLength="10.0" lengthAdjust="spacingAndGlyphs" xml:space="preserve">80</text>
<text x="1438.2" y="702" fill="#000" stroke="#000" stroke-width="0.12" textLength="10.0" lengthAdjust="spacingAndGlyphs" xml:space="preserve">50</text>
<text x="1438.2" y="736" fill="#000" stroke="#000" stroke-width="0.12" textLength="10.0" lengthAdjust="spacingAndGlyphs" xml:space="preserve">20</text>
<text x="1438.2" y="753" fill="#000" stroke="#000" stroke-width="0.12" textLength="5.0" lengthAdjust="spacingAndGlyphs" xml:space="preserve">0</text>
<path d="M6,9 L13,9 L9.5,13 Z" fill="#000"/>
<text x="18" y="14" fill="#000" stroke="#000" stroke-width="0.12" textLength="200.9" lengthAdjust="spacingAndGlyphs" xml:space="preserve">GBPUSD,H4  1.22715 1.22835 1.22644 1.22720</text>
<text x="6.6" y="652" fill="#000" stroke="#000" stroke-width="0.12" textLength="69.0" lengthAdjust="spacingAndGlyphs" xml:space="preserve">RSI(14) 51.2745</text>
<text x="2.0" y="769" fill="#000" stroke="#000" stroke-width="0.12" textLength="54.9" lengthAdjust="spacingAndGlyphs" xml:space="preserve">25 May 2022</text>
<text x="66.0" y="769" fill="#000" stroke="#000" stroke-width="0.12" textLength="57.5" lengthAdjust="spacingAndGlyphs" xml:space="preserve">27 May 00:00</text>
<text x="130.0" y="769" fill="#000" stroke="#000" stroke-width="0.12" textLength="57.5" lengthAdjust="spacingAndGlyphs" xml:space="preserve">30 May 08:00</text>
<text x="194.0" y="769" fill="#000" stroke="#000" stroke-width="0.12" textLength="57.5" lengthAdjust="spacingAndGlyphs" xml:space="preserve">31 May 16:00</text>
<text x="258.5" y="769" fill="#000" stroke="#000" stroke-width="0.12" textLength="48.0" lengthAdjust="spacingAndGlyphs" xml:space="preserve">2 Jun 00:00</text>
<text x="322.5" y="769" fill="#000" stroke="#000" stroke-width="0.12" textLength="48.0" lengthAdjust="spacingAndGlyphs" xml:space="preserve">3 Jun 08:00</text>
<text x="386.5" y="769" fill="#000" stroke="#000" stroke-width="0.12" textLength="48.0" lengthAdjust="spacingAndGlyphs" xml:space="preserve">6 Jun 16:00</text>
<text x="450.5" y="769" fill="#000" stroke="#000" stroke-width="0.12" textLength="48.0" lengthAdjust="spacingAndGlyphs" xml:space="preserve">8 Jun 00:00</text>
<text x="514.5" y="769" fill="#000" stroke="#000" stroke-width="0.12" textLength="48.0" lengthAdjust="spacingAndGlyphs" xml:space="preserve">9 Jun 08:00</text>
<text x="578.5" y="769" fill="#000" stroke="#000" stroke-width="0.12" textLength="53.1" lengthAdjust="spacingAndGlyphs" xml:space="preserve">10 Jun 16:00</text>
<text x="642.5" y="769" fill="#000" stroke="#000" stroke-width="0.12" textLength="53.1" lengthAdjust="spacingAndGlyphs" xml:space="preserve">14 Jun 00:00</text>
<text x="706.5" y="769" fill="#000" stroke="#000" stroke-width="0.12" textLength="53.1" lengthAdjust="spacingAndGlyphs" xml:space="preserve">15 Jun 08:00</text>
<text x="770.5" y="769" fill="#000" stroke="#000" stroke-width="0.12" textLength="53.1" lengthAdjust="spacingAndGlyphs" xml:space="preserve">16 Jun 16:00</text>
<text x="834.5" y="769" fill="#000" stroke="#000" stroke-width="0.12" textLength="53.1" lengthAdjust="spacingAndGlyphs" xml:space="preserve">20 Jun 00:00</text>
<text x="898.5" y="769" fill="#000" stroke="#000" stroke-width="0.12" textLength="53.1" lengthAdjust="spacingAndGlyphs" xml:space="preserve">21 Jun 08:00</text>
<text x="962.5" y="769" fill="#000" stroke="#000" stroke-width="0.12" textLength="53.1" lengthAdjust="spacingAndGlyphs" xml:space="preserve">22 Jun 16:00</text>
<text x="1026.5" y="769" fill="#000" stroke="#000" stroke-width="0.12" textLength="53.1" lengthAdjust="spacingAndGlyphs" xml:space="preserve">24 Jun 00:00</text>
<text x="1090.5" y="769" fill="#000" stroke="#000" stroke-width="0.12" textLength="53.1" lengthAdjust="spacingAndGlyphs" xml:space="preserve">27 Jun 08:00</text>
</svg>
</body></html>
